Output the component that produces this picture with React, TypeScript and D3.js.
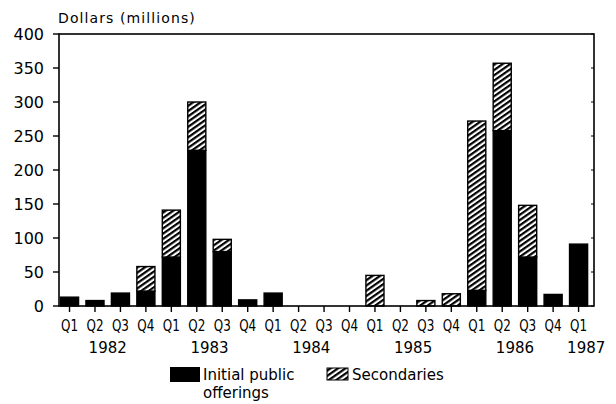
import React from "react";
import * as d3 from "d3";

const quarters = [
  "Q1","Q2","Q3","Q4",
  "Q1","Q2","Q3","Q4",
  "Q1","Q2","Q3","Q4",
  "Q1","Q2","Q3","Q4",
  "Q1","Q2","Q3","Q4",
  "Q1",
];
const ipo = [13, 8, 19, 22, 72, 229, 80, 9, 19, 0, 0, 0, 0, 0, 0, 0, 23, 258, 72, 17, 91];
const secondaries = [0, 0, 0, 36, 69, 71, 18, 0, 0, 0, 0, 0, 45, 0, 8, 18, 249, 99, 76, 0, 0];
const years = ["1982", "1983", "1984", "1985", "1986", "1987"];
const yearCenterIndex = [1.5, 5.5, 9.5, 13.5, 17.5, 20.3];
const yTicks = [0, 50, 100, 150, 200, 250, 300, 350, 400];
const seriesKeys = ["ipo", "sec"];
const legendLabels = ["Initial public", "offerings", "Secondaries"];
const yTitle = "Dollars (millions)";

const W = 616;
const H = 404;
const left = 59;
const right = 594;
const top = 34;
const bottom = 306;

export default function App() {
  const rows = quarters.map((q, i) => ({ i, q, ipo: ipo[i], sec: secondaries[i] }));
  const x = d3
    .scaleBand<number>()
    .domain(rows.map((r) => r.i))
    .range([56.8, 591.3])
    .paddingInner(0.29)
    .paddingOuter(0.145);
  const y = d3.scaleLinear().domain([0, 400]).range([bottom, top]);
  const stacked = d3.stack<any>().keys(seriesKeys)(rows as any);
  const step = x.step();
  const cx = (i: number) => (x(0) as number) + x.bandwidth() / 2 + step * i;
  const font = "DejaVu Sans, Verdana, sans-serif";

  return (
    <svg
      width={W}
      height={H}
      style={{ position: "absolute", left: 0, top: 0, background: "#fff" }}
    >
      <defs>
        <pattern
          id="hatch"
          patternUnits="userSpaceOnUse"
          width={8}
          height={4.3}
          patternTransform="rotate(-35)"
        >
          <rect x={0} y={0} width={8} height={4.3} fill="#fff" />
          <rect x={0} y={0} width={8} height={2.2} fill="#000" />
        </pattern>
      </defs>
      <rect width={W} height={H} fill="#fff" />

      {/* title */}
      <text x={58} y={23} fontFamily={font} fontSize={14} letterSpacing={1.1} fill="#000">
        {yTitle}
      </text>

      {/* bars */}
      {stacked.map((s, si) =>
        s.map((d, i) => {
          const h = y(d[0]) - y(d[1]);
          if (h <= 0) return null;
          return (
            <rect
              key={`${si}-${i}`}
              x={x(i)}
              y={y(d[1])}
              width={x.bandwidth()}
              height={h}
              fill={si === 0 ? "#000" : "url(#hatch)"}
              stroke="#000"
              strokeWidth={1.4}
            />
          );
        })
      )}

      {/* frame */}
      <rect
        x={left}
        y={top}
        width={right - left}
        height={bottom - top}
        fill="none"
        stroke="#000"
        strokeWidth={1.6}
      />

      {/* y ticks and labels */}
      {yTicks.map((t) => (
        <g key={t}>
          <line x1={left - 6} x2={left} y1={y(t)} y2={y(t)} stroke="#000" strokeWidth={1.4} />
          <line x1={right - 3} x2={right} y1={y(t)} y2={y(t)} stroke="#000" strokeWidth={1} />
          <text
            x={44}
            y={y(t)}
            dy="0.36em"
            textAnchor="end"
            fontFamily={font}
            fontSize={16}
            fill="#000"
          >
            {t}
          </text>
        </g>
      ))}

      {/* x ticks and quarter labels */}
      {rows.map((r) => (
        <g key={r.i}>
          <line x1={cx(r.i)} x2={cx(r.i)} y1={bottom} y2={bottom + 6} stroke="#000" strokeWidth={1.4} />
          <text
            transform={`translate(${cx(r.i)},331) scale(0.8,1)`}
            textAnchor="middle"
            fontFamily={font}
            fontSize={15}
            fill="#000"
          >
            {r.q}
          </text>
        </g>
      ))}

      {/* year labels */}
      {years.map((yr, k) => (
        <text
          key={yr}
          x={cx(yearCenterIndex[k])}
          y={353}
          textAnchor="middle"
          fontFamily={font}
          fontSize={15}
          fill="#000"
        >
          {yr}
        </text>
      ))}

      {/* legend */}
      <rect x={170} y={367} width={30} height={15} fill="#000" />
      <text x={203} y={380} fontFamily={font} fontSize={15} fill="#000">
        {legendLabels[0]}
      </text>
      <text x={203} y={398} fontFamily={font} fontSize={15} fill="#000">
        {legendLabels[1]}
      </text>
      <rect x={327} y={368} width={21} height={12} fill="url(#hatch)" stroke="#000" strokeWidth={1} />
      <text x={352} y={380} fontFamily={font} fontSize={15} fill="#000">
        {legendLabels[2]}
      </text>
    </svg>
  );
}
